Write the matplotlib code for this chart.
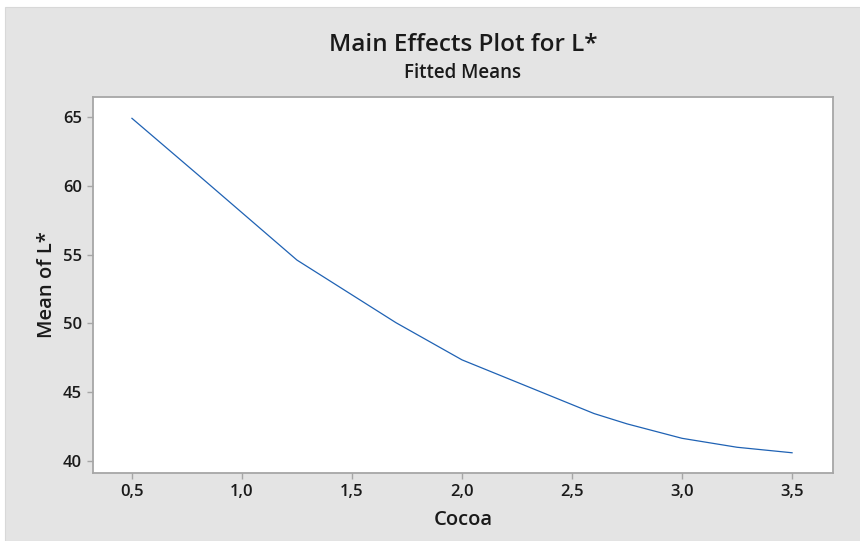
import matplotlib
matplotlib.use("Agg")
import matplotlib.pyplot as plt
from matplotlib.patches import Rectangle

plt.rcParams['font.family'] = ['Open Sans', 'DejaVu Sans']

# fitted means of L* against cocoa level
cocoa = [0.5, 0.8, 1.25, 1.7, 2.0, 2.6, 2.75, 3.0, 3.25, 3.5]
mean_L = [64.9, 60.8, 54.6, 50.05, 47.35, 43.45, 42.7, 41.65, 41.0, 40.6]

x_ticks = [0.5, 1.0, 1.5, 2.0, 2.5, 3.0, 3.5]
x_labels = ['0,5', '1,0', '1,5', '2,0', '2,5', '3,0', '3,5']
y_ticks = [40, 45, 50, 55, 60, 65]

panel = '#e4e4e4'
edge = '#a6a6a6'
txt = '#1a1a1a'

fig = plt.figure(figsize=(8.6, 5.41), dpi=100, facecolor='white')
# gray backdrop behind the axes
fig.patches.append(Rectangle((5 / 860, 0), 1, (541 - 7) / 541, transform=fig.transFigure,
                             facecolor=panel, edgecolor='#d8d8d8', lw=0.8, zorder=-5))

ax = fig.add_axes([93 / 860, 68 / 541, 740 / 860, 376 / 541])
ax.set_facecolor('white')
ax.plot(cocoa, mean_L, color='#1f62b4', lw=0.9)

ax.set_xlim(0.323, 3.686)
ax.set_ylim(39.13, 66.45)
ax.set_xticks(x_ticks)
ax.set_xticklabels(x_labels)
ax.set_yticks(y_ticks)
for sp in ax.spines.values():
    sp.set_color(edge)
    sp.set_linewidth(1.3)
ax.tick_params(direction='out', length=4, width=1, color=edge, labelcolor=txt,
               labelsize=12, pad=4)
for lab in ax.get_xticklabels() + ax.get_yticklabels():
    lab.set_fontweight('semibold')

ax.set_xlabel('Cocoa', fontsize=14.5, fontweight='semibold', color=txt, labelpad=7)
ax.set_ylabel('Mean of L*', fontsize=14.5, fontweight='semibold', color=txt, labelpad=4)

fig.text(463 / 860, 1 - 45 / 541, 'Main Effects Plot for L*', ha='center', va='center',
         fontsize=17.5, fontweight='semibold', color=txt)
fig.text(463 / 860, 1 - 73 / 541, 'Fitted Means', ha='center', va='center',
         fontsize=13.5, fontweight='semibold', color=txt)

fig.savefig('out.png', dpi=100, facecolor=fig.get_facecolor())
